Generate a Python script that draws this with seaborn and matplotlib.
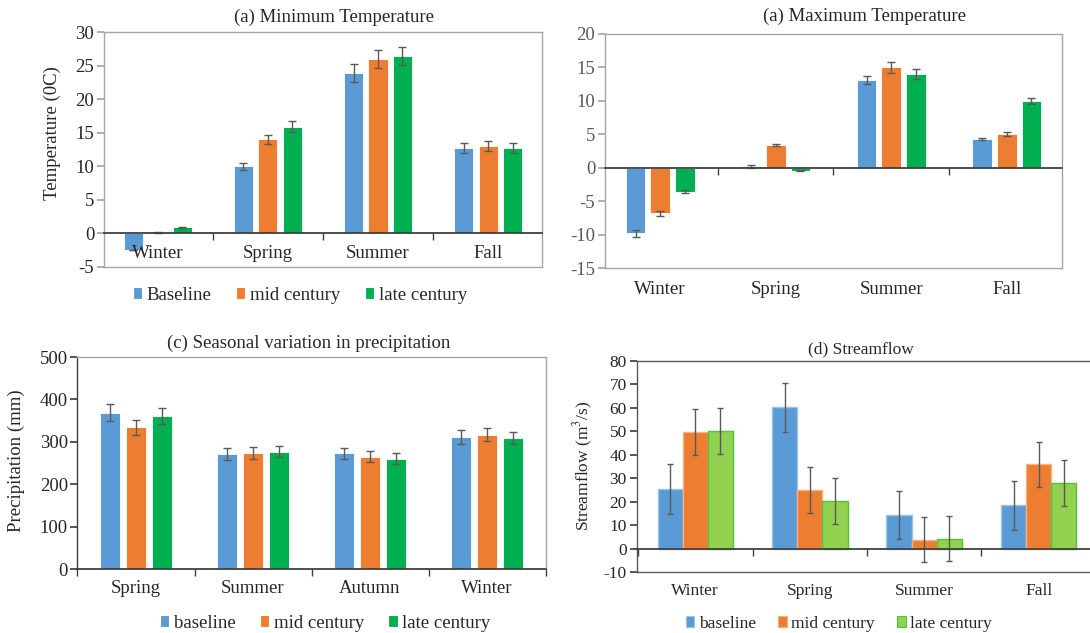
import matplotlib.pyplot as plt
from matplotlib.patches import Patch
import seaborn as sns
import pandas as pd
import numpy as np

seasons = ['Winter', 'Spring', 'Summer', 'Fall']
seasons_c = ['Spring', 'Summer', 'Autumn', 'Winter']
periods = ['baseline', 'mid century', 'late century']

# (a) minimum temperature (0C), mean and error per period
tmin_base = [-2.4, 10.0, 23.9, 12.7]
tmin_mid = [0.15, 14.0, 26.0, 13.0]
tmin_late = [0.9, 15.9, 26.4, 12.7]
tmin_base_err = [0.0, 0.5, 1.3, 0.75]
tmin_mid_err = [0.05, 0.7, 1.35, 0.7]
tmin_late_err = [0.1, 0.8, 1.35, 0.75]

# (b) maximum temperature
tmax_base = [-9.8, 0.2, 13.1, 4.3]
tmax_mid = [-6.8, 3.4, 15.0, 5.0]
tmax_late = [-3.6, -0.45, 14.0, 10.0]
tmax_base_err = [0.55, 0.2, 0.65, 0.2]
tmax_mid_err = [0.35, 0.2, 0.8, 0.3]
tmax_late_err = [0.2, 0.1, 0.7, 0.45]

# (c) precipitation (mm)
prcp_base = [369, 271, 273, 312]
prcp_mid = [334, 273, 265, 317]
prcp_late = [360, 277, 260, 309]
prcp_base_err = [19, 15, 13, 16]
prcp_mid_err = [18, 14, 13, 16]
prcp_late_err = [19, 13, 13, 13]

# (d) streamflow (m3/s)
flow_base = [25.4, 60.2, 14.3, 18.5]
flow_mid = [49.7, 24.9, 3.7, 35.9]
flow_late = [50.1, 20.2, 4.1, 28.0]
flow_base_err = [10.7, 10.6, 10.4, 10.5]
flow_mid_err = [9.7, 9.7, 9.6, 9.6]
flow_late_err = [9.7, 9.7, 9.6, 9.7]

BLUE, ORANGE, GREEN, LGREEN = '#5B9BD5', '#ED7D31', '#00B050', '#92D050'
ERR = '#595959'
BOX = '#A6A6A6'
DARK = '#404040'
FS = 13.5


def make_df(cats, base, mid, late, base_err, mid_err, late_err):
    return pd.DataFrame({
        'season': cats * 3,
        'period': np.repeat(periods, len(cats)),
        'value': base + mid + late,
        'err': base_err + mid_err + late_err,
    })


def draw_bars(ax, df, cats, colors, width, gap, edge, capsize):
    sns.barplot(data=df, x='season', y='value', hue='period', order=cats,
                hue_order=periods, palette=colors, saturation=1, width=width, gap=gap,
                edgecolor=edge, linewidth=0.6, errorbar=None, legend=False, ax=ax)
    for cont, p in zip(ax.containers, periods):
        errs = df[df.period == p].set_index('season').loc[cats, 'err'].values
        xs = [b.get_x() + b.get_width() / 2 for b in cont]
        ys = [b.get_y() + b.get_height() for b in cont]
        ax.errorbar(xs, ys, yerr=errs, fmt='none', ecolor=ERR, elinewidth=1,
                    capsize=capsize, capthick=1, zorder=3)
    ax.set_xlabel('')
    ax.set_ylabel('')


def zero_line(ax, n, labels=None, fs=FS, pad=8):
    sec = ax.secondary_xaxis(0, transform=ax.transData)
    sec.set_zorder(4)
    sec.spines['bottom'].set_color(DARK)
    sec.spines['bottom'].set_linewidth(1.3)
    sec.set_ticks(np.arange(n + 1) - 0.5, minor=True)
    sec.tick_params(which='minor', bottom=True, length=5, width=1, color=DARK)
    if labels is None:
        sec.set_ticks([])
    else:
        sec.set_ticks(range(n), labels)
        sec.tick_params(which='major', bottom=True, length=0, pad=pad,
                        labelsize=fs, labelcolor='#262626')
    return sec


def box(ax, color):
    for s in ax.spines.values():
        s.set_visible(True)
        s.set_color(color)
        s.set_linewidth(1)


def legend(ax, labels, colors, edges, x, y, fs, colspace):
    handles = [Patch(facecolor=c, edgecolor=e, linewidth=0.8) for c, e in zip(colors, edges)]
    ax.legend(handles, labels, loc='center', bbox_to_anchor=(x, y), ncol=3,
              frameon=False, fontsize=fs, handlelength=0.5, handleheight=0.6,
              handletextpad=0.25, columnspacing=colspace, borderpad=0, borderaxespad=0)


sns.set_theme(style='white')
plt.rcParams['font.family'] = ['Liberation Serif', 'DejaVu Serif']
plt.rcParams['mathtext.fontset'] = 'stix'
plt.rcParams['axes.unicode_minus'] = False

fig = plt.figure(figsize=(10.9, 6.33), dpi=100)
ax_a = fig.add_axes([0.0954, 0.5782, 0.4018, 0.3712])
ax_b = fig.add_axes([0.5550, 0.5766, 0.4193, 0.3697])
ax_c = fig.add_axes([0.0711, 0.1011, 0.4294, 0.3349])
ax_d = fig.add_axes([0.5840, 0.0964, 0.4228, 0.3333])

# ---- (a) Minimum temperature
df_a = make_df(seasons, tmin_base, tmin_mid, tmin_late, tmin_base_err, tmin_mid_err, tmin_late_err)
draw_bars(ax_a, df_a, seasons, [BLUE, ORANGE, GREEN], 0.666, 0.22, 'white', 3)
ax_a.set_ylim(-5, 30)
ax_a.set_yticks(range(-5, 31, 5))
box(ax_a, BOX)
ax_a.tick_params(axis='x', bottom=False, labelbottom=False)
ax_a.tick_params(axis='y', left=True, length=5, color=BOX, labelsize=FS, labelcolor='#262626', pad=2)
zero_line(ax_a, len(seasons), seasons, pad=8)
ax_a.text(0.526, 1.064, '(a) Minimum Temperature', transform=ax_a.transAxes,
          ha='center', va='center', fontsize=FS, color='#262626')
ax_a.text(-0.118, 0.572, 'Temperature (0C)', transform=ax_a.transAxes, rotation=90,
          ha='center', va='center', fontsize=FS, color='#262626')
legend(ax_a, ['Baseline', 'mid century', 'late century'], [BLUE, ORANGE, GREEN],
       ['white'] * 3, 0.447, -0.121, FS, 1.3)

# ---- (b) Maximum temperature
df_b = make_df(seasons, tmax_base, tmax_mid, tmax_late, tmax_base_err, tmax_mid_err, tmax_late_err)
draw_bars(ax_b, df_b, seasons, [BLUE, ORANGE, GREEN], 0.64, 0.2, 'white', 3)
ax_b.set_ylim(-15, 20)
ax_b.set_yticks(range(-15, 21, 5))
box(ax_b, BOX)
ax_b.tick_params(axis='x', bottom=False, length=0, pad=9, labelsize=FS, labelcolor='#262626')
ax_b.tick_params(axis='y', left=True, length=5, color=BOX, labelsize=FS, labelcolor='#595959', pad=2)
zero_line(ax_b, len(seasons))
ax_b.text(0.567, 1.077, '(a) Maximum Temperature', transform=ax_b.transAxes,
          ha='center', va='center', fontsize=FS, color='#262626')

# ---- (c) Precipitation
df_c = make_df(seasons_c, prcp_base, prcp_mid, prcp_late, prcp_base_err, prcp_mid_err, prcp_late_err)
draw_bars(ax_c, df_c, seasons_c, [BLUE, ORANGE, GREEN], 0.666, 0.24, 'white', 3)
ax_c.set_ylim(0, 500)
ax_c.set_yticks(range(0, 501, 100))
box(ax_c, BOX)
ax_c.spines['left'].set_color(DARK)
ax_c.spines['bottom'].set_color(DARK)
ax_c.spines['bottom'].set_linewidth(1.3)
ax_c.set_xticks(np.arange(len(seasons_c) + 1) - 0.5, minor=True)
ax_c.tick_params(axis='x', which='minor', bottom=True, length=5, width=1, color=DARK)
ax_c.tick_params(axis='x', which='major', bottom=False, length=0, pad=8, labelsize=FS, labelcolor='#262626')
ax_c.tick_params(axis='y', left=True, length=5, color=DARK, labelsize=FS, labelcolor='#262626', pad=2)
ax_c.set_xlim(-0.5, 3.5)
ax_c.text(0.495, 1.066, '(c) Seasonal variation in precipitation', transform=ax_c.transAxes,
          ha='center', va='center', fontsize=FS, color='#262626')
ax_c.text(-0.131, 0.509, 'Precipitation (mm)', transform=ax_c.transAxes, rotation=90,
          ha='center', va='center', fontsize=FS, color='#262626')
legend(ax_c, ['baseline', 'mid century', 'late century'], [BLUE, ORANGE, GREEN],
       ['white'] * 3, 0.529, -0.255, FS, 1.3)

# ---- (d) Streamflow
df_d = make_df(seasons, flow_base, flow_mid, flow_late, flow_base_err, flow_mid_err, flow_late_err)
draw_bars(ax_d, df_d, seasons, [BLUE, ORANGE, LGREEN], 0.66, 0, 'white', 2.5)
for cont, ec in zip(ax_d.containers, ['#9DC3E6', '#F4B183', '#4CC43C']):
    for b in cont:
        b.set_edgecolor(ec)
        b.set_linewidth(1)
ax_d.set_ylim(-10, 80)
ax_d.set_yticks(range(-10, 81, 10))
box(ax_d, '#595959')
ax_d.tick_params(axis='x', bottom=False, length=0, pad=8, labelsize=12.5, labelcolor='#262626')
ax_d.tick_params(axis='y', left=True, length=5, color=DARK, labelsize=12.5, labelcolor='#262626', pad=2)
zero_line(ax_d, len(seasons))
ax_d.text(0.487, 1.057, '(d) Streamflow', transform=ax_d.transAxes,
          ha='center', va='center', fontsize=12.5, color='#262626')
ax_d.text(-0.116, 0.502, 'Streamflow (m$^3$/s)', transform=ax_d.transAxes, rotation=90,
          ha='center', va='center', fontsize=12.5, color='#262626')
legend(ax_d, ['baseline', 'mid century', 'late century'], [BLUE, ORANGE, LGREEN],
       ['#9DC3E6', '#F4B183', '#4CC43C'], 0.439, -0.246, 12.5, 1.3)

fig.savefig('out.png', dpi=100)
